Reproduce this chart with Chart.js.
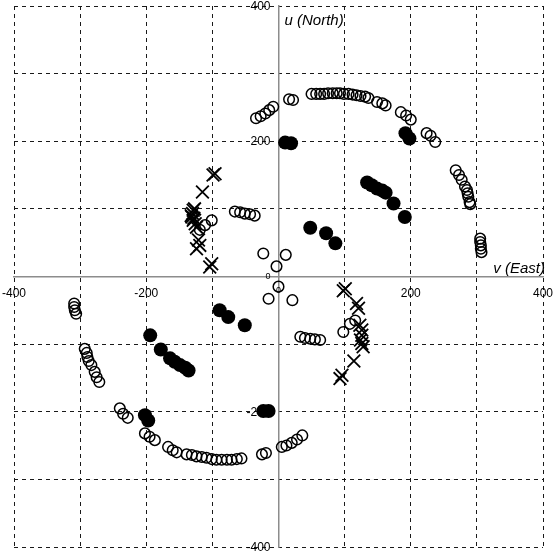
<!DOCTYPE html>
<html>
<head>
<meta charset="utf-8">
<script src="https://cdn.jsdelivr.net/npm/chart.js@4/dist/chart.umd.min.js"></script>
<style>
  html, body { margin: 0; padding: 0; background: #fff; }
  #uvChart { display: block; }
</style>
</head>
<body>
<canvas id="uvChart" width="554" height="551"></canvas>
<script>
// --- データ (v = East, u = North) ---
const openV = [
  -34, -27, -20, -14, -8, 16, 22,
  50, 57, 63, 69, 75, 82, 88, 93, 99, 106, 112, 118, 124, 131, 136,
  149, 157, 162, 185, 193, 200, 224, 230, 237,
  268, 273, 277, 282, 285, 286, 287, 289, 290,
  305, 305, 306, 306, 307,
  -309, -309, -308, -306,
  -293, -290, -289, -287, -283, -278, -275, -271,
  -240, -235, -228, -202, -195, -187, -167, -160, -154,
  -139, -131, -124, -116, -109, -101, -94, -86, -78, -71, -63, -56,
  -25, -19, 5, 12, 20, 28, 36,
  -66, -58, -51, -43, -36, -23, 11, -3, 0, -15, 21,
  -101, -111, -119, 98, 108, 116,
  33, 40, 48, 55, 63
];
const openU = [
  234, 237, 241, 246, 251, 262, 261,
  270, 270, 270, 270, 271, 271, 271, 271, 270, 270, 269, 268, 267, 266, 264,
  258, 256, 253, 243, 238, 232, 212, 208, 199,
  157, 150, 143, 133, 128, 123, 118, 110, 107,
  56, 51, 46, 41, 36,
  -40, -45, -50, -55,
  -107, -113, -119, -125, -131, -141, -149, -156,
  -195, -203, -209, -232, -237, -242, -252, -257, -260,
  -263, -264, -266, -267, -268, -270, -271, -271, -271, -271, -270, -269,
  -263, -261, -252, -250, -246, -241, -235,
  96, 95, 93, 92, 90, 34, 32, 15, -15, -33, -35,
  83, 76, 69, -82, -70, -65,
  -89, -91, -92, -93, -94
];

const filledV = [
  10, 19, 134, 141, 149, 157, 162, 174, 191, 48, 72, 86, 192, 198,
  -89, -76, -51, -194, -178, -164, -157, -149, -141, -136, -202, -197, -23, -15
];
const filledU = [
  198, 197, 139, 135, 130, 127, 124, 108, 88, 72, 64, 49, 212, 204,
  -50, -60, -72, -87, -108, -121, -126, -131, -135, -139, -205, -213, -199, -199
];

const crossV = [
  -99, -96, -115, -127, -129, -130, -132, -131, -129, -128, -126, -124, -121, -119, -124, -101, -104,
  101, 98, 118, 121, 123, 126, 126, 124, 126, 128, 114, 96, 93
];
const crossU = [
  150, 152, 125, 100, 98, 93, 90, 88, 83, 86, 78, 73, 54, 46, 41, 19, 14,
  -18, -21, -40, -47, -72, -79, -87, -94, -99, -104, -125, -146, -151
];

const axisMin = -400;
const axisMax = 400;
const gridStep = 100;
const labelStep = 200;
const vTitle = 'v (East)';
const uTitle = 'u (North)';

const fontFamily = '"Liberation Sans", Arial, sans-serif';

function toPoints(xs, ys) {
  return xs.map((x, i) => ({ x: x, y: ys[i] }));
}

// 目盛りラベルと軸タイトル (中央軸の横に描く)
const axisLabels = {
  id: 'axisLabels',
  afterDraw(chart) {
    const { ctx, scales: { x, y } } = chart;
    const x0 = x.getPixelForValue(0);
    const y0 = y.getPixelForValue(0);
    ctx.save();
    ctx.fillStyle = '#000';

    // x軸の目盛り (軸の下)
    ctx.textAlign = 'center';
    ctx.textBaseline = 'top';
    x.ticks.forEach(t => {
      if (t.value % labelStep !== 0) return;
      ctx.font = (t.value === 0 ? 9 : 12) + 'px ' + fontFamily;
      ctx.fillText(String(t.value), x.getPixelForValue(t.value), y0 + (t.value === 0 ? 10 : 11));
    });

    // y軸の目盛り (軸の左)
    ctx.textAlign = 'right';
    ctx.textBaseline = 'middle';
    y.ticks.forEach(t => {
      if (t.value % labelStep !== 0) return;
      ctx.font = (t.value === 0 ? 9 : 12) + 'px ' + fontFamily;
      ctx.fillText(String(t.value), x0 - 8, y.getPixelForValue(t.value) + 0.5);
    });

    // 軸タイトル
    ctx.font = 'italic 15px ' + fontFamily;
    ctx.textBaseline = 'alphabetic';
    ctx.textAlign = 'left';
    ctx.fillText(uTitle, x0 + 6, y.getPixelForValue(axisMax) + 19);
    ctx.textAlign = 'right';
    ctx.fillText(vTitle, x.getPixelForValue(axisMax) + 2, y0 - 4);
    ctx.restore();
  }
};

function axisOptions(center) {
  return {
    type: 'linear',
    position: center,
    min: axisMin,
    max: axisMax,
    grid: {
      color: (c) => (c.tick && c.tick.value === 0 ? 'rgba(0,0,0,0)' : '#1a1a1a'),
      lineWidth: 1,
      drawTicks: false
    },
    border: {
      display: true,
      color: '#8c8c8c',
      width: 1.5,
      dash: [4, 4]
    },
    ticks: {
      stepSize: gridStep,
      display: false
    }
  };
}

const ctx = document.getElementById('uvChart').getContext('2d');
new Chart(ctx, {
  type: 'scatter',
  data: {
    datasets: [
      {
        label: 'open',
        data: toPoints(openV, openU),
        pointStyle: 'circle',
        pointRadius: 5.3,
        pointBorderWidth: 1.5,
        pointBorderColor: '#000',
        pointBackgroundColor: 'rgba(0,0,0,0)'
      },
      {
        label: 'filled',
        data: toPoints(filledV, filledU),
        pointStyle: 'circle',
        pointRadius: 7,
        pointBorderWidth: 0,
        pointBorderColor: '#000',
        pointBackgroundColor: '#000'
      },
      {
        label: 'cross',
        data: toPoints(crossV, crossU),
        pointStyle: 'crossRot',
        pointRadius: 9,
        pointBorderWidth: 1.8,
        pointBorderColor: '#000',
        pointBackgroundColor: '#000'
      }
    ]
  },
  options: {
    responsive: false,
    animation: false,
    layout: { autoPadding: false, padding: { left: 14, right: 11, top: 6, bottom: 4 } },
    plugins: {
      legend: { display: false },
      tooltip: { enabled: false }
    },
    scales: {
      x: axisOptions({ y: 0 }),
      y: axisOptions({ x: 0 })
    }
  },
  plugins: [axisLabels]
});
</script>
</body>
</html>
